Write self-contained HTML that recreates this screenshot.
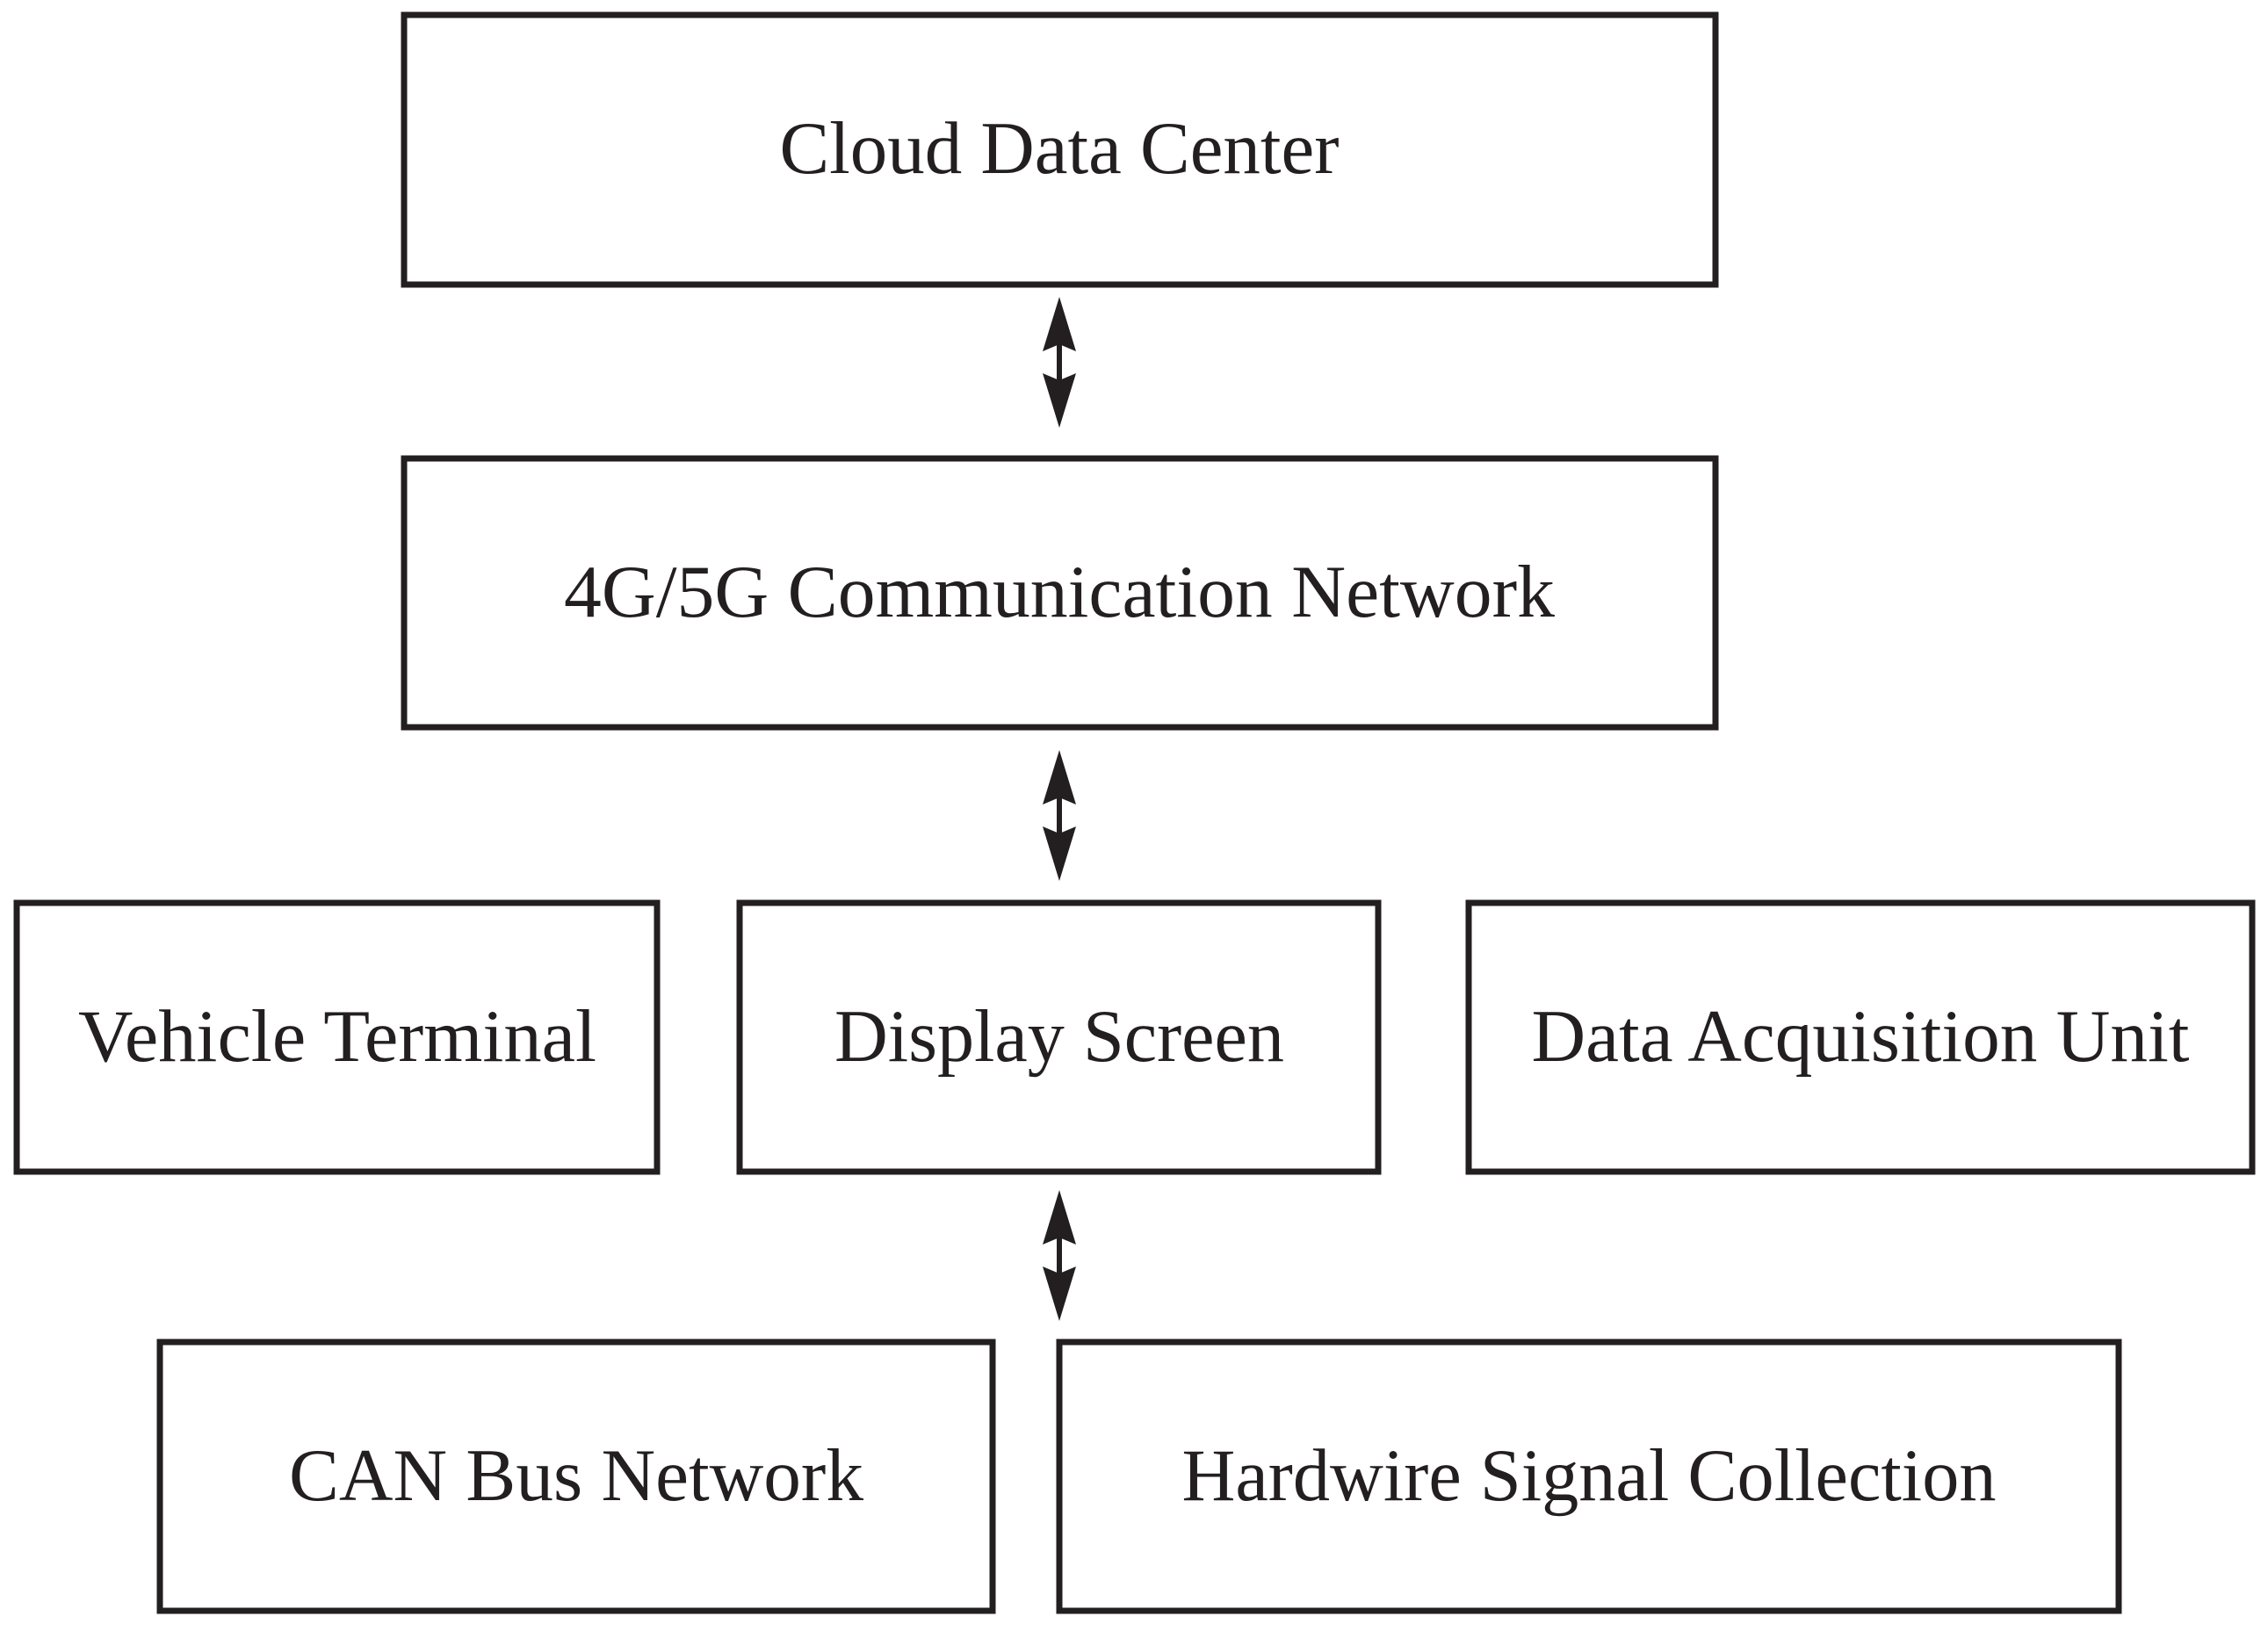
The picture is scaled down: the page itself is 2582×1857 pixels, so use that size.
<!DOCTYPE html>
<html><head><meta charset="utf-8"><style>html,body{margin:0;padding:0;background:#fff}svg{display:block}</style></head>
<body>
<svg width="2582" height="1857" viewBox="0 0 2582 1857" xmlns="http://www.w3.org/2000/svg">
<g fill="none" stroke="#231f20" stroke-width="7">
<rect x="460" y="17" width="1493" height="307"/>
<rect x="460" y="522" width="1493" height="306"/>
<rect x="19" y="1028" width="729" height="306"/>
<rect x="842" y="1028" width="727" height="306"/>
<rect x="1672" y="1028" width="892" height="306"/>
<rect x="182" y="1528" width="948" height="306"/>
<rect x="1206" y="1528" width="1206" height="306"/>
</g>
<g fill="#231f20">
<g id="a"><rect x="1203" y="390" width="6" height="46"/><polygon points="1206,338 1225,400 1206,392 1187,400"/><polygon points="1206,487 1225,425 1206,433 1187,425"/></g>
<use href="#a" y="516"/>
<use href="#a" y="1017"/>
</g>
<g font-family="Liberation Serif, serif" font-size="85" fill="#231f20" text-anchor="middle">
<text x="1206" y="197" textLength="637" lengthAdjust="spacingAndGlyphs">Cloud Data Center</text>
<text x="1206" y="702" textLength="1128" lengthAdjust="spacingAndGlyphs">4G/5G Communication Network</text>
<text x="384" y="1208" textLength="590" lengthAdjust="spacingAndGlyphs">Vehicle Terminal</text>
<text x="1206" y="1208" textLength="512" lengthAdjust="spacingAndGlyphs">Display Screen</text>
<text x="2118" y="1208" textLength="749" lengthAdjust="spacingAndGlyphs">Data Acquisition Unit</text>
<text x="656" y="1708" textLength="654" lengthAdjust="spacingAndGlyphs">CAN Bus Network</text>
<text x="1809" y="1708" textLength="927" lengthAdjust="spacingAndGlyphs">Hardwire Signal Collection</text>
</g>
</svg>
</body></html>
